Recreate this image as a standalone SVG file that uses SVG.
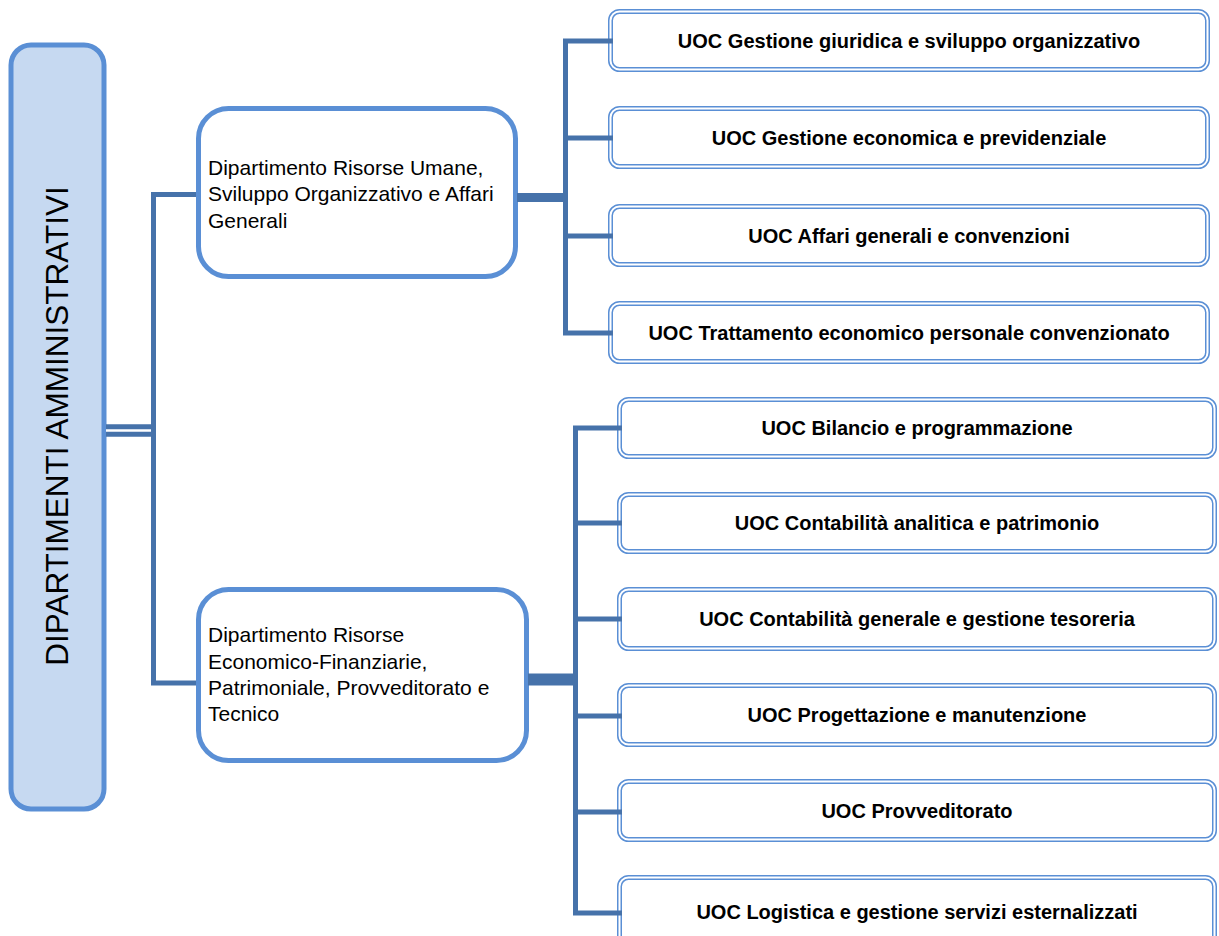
<svg xmlns="http://www.w3.org/2000/svg" width="1219" height="936" viewBox="0 0 1219 936">
<style>
.bg{fill:#ffffff}
.main{fill:#C6D9F1;stroke:#5A8FD5;stroke-width:5}
.dept{fill:#ffffff;stroke:#5A8FD5;stroke-width:5}
.uo{fill:#ffffff;stroke:#5A8FD5;stroke-width:5}
.uoi{fill:none;stroke:#ffffff;stroke-width:2}
.conn{fill:none;stroke:#4672AA;stroke-linejoin:miter;stroke-linecap:butt}
.title{font-family:"Liberation Sans",Arial,sans-serif;font-size:31.5px;fill:#000000}
.dt{font-family:"Liberation Sans",Arial,sans-serif;font-size:21px;fill:#000000}
.ut{font-family:"Liberation Sans",Arial,sans-serif;font-size:20px;font-weight:bold;fill:#000000;text-anchor:middle}
</style>
<rect class="bg" x="0" y="0" width="1219" height="936"/>

<g id="node-main">
<rect class="main" x="11" y="45" width="93" height="764" rx="20"/>
<text class="title" transform="translate(68,426) rotate(-90)" text-anchor="middle">DIPARTIMENTI AMMINISTRATIVI</text>
</g>

<g id="node-dept1">
<rect class="dept" x="198.5" y="108.5" width="317" height="168" rx="30"/>
<text class="dt" x="208" y="175">Dipartimento Risorse Umane,</text>
<text class="dt" x="208" y="201">Sviluppo Organizzativo e Affari</text>
<text class="dt" x="208" y="228">Generali</text>
</g>

<g id="node-dept2">
<rect class="dept" x="198.5" y="589.5" width="328" height="171" rx="30"/>
<text class="dt" x="208" y="642">Dipartimento Risorse</text>
<text class="dt" x="208" y="669">Economico-Finanziarie,</text>
<text class="dt" x="208" y="695">Patrimoniale, Provveditorato e</text>
<text class="dt" x="208" y="721">Tecnico</text>
</g>

<g id="node-uoc1">
<rect class="uo" x="610.5" y="11.5" width="597" height="58" rx="9"/>
<rect class="uoi" x="610.5" y="11.5" width="597" height="58" rx="9"/>
<text class="ut" x="909" y="48">UOC Gestione giuridica e sviluppo organizzativo</text>
</g>
<g id="node-uoc2">
<rect class="uo" x="610.5" y="108.5" width="597" height="58" rx="9"/>
<rect class="uoi" x="610.5" y="108.5" width="597" height="58" rx="9"/>
<text class="ut" x="909" y="145">UOC Gestione economica e previdenziale</text>
</g>
<g id="node-uoc3">
<rect class="uo" x="610.5" y="206.5" width="597" height="58" rx="9"/>
<rect class="uoi" x="610.5" y="206.5" width="597" height="58" rx="9"/>
<text class="ut" x="909" y="243">UOC Affari generali e convenzioni</text>
</g>
<g id="node-uoc4">
<rect class="uo" x="610.5" y="303.5" width="597" height="58" rx="9"/>
<rect class="uoi" x="610.5" y="303.5" width="597" height="58" rx="9"/>
<text class="ut" x="909" y="340">UOC Trattamento economico personale convenzionato</text>
</g>

<g id="node-uoc5">
<rect class="uo" x="619.5" y="399.5" width="595" height="57" rx="9"/>
<rect class="uoi" x="619.5" y="399.5" width="595" height="57" rx="9"/>
<text class="ut" x="917" y="435">UOC Bilancio e programmazione</text>
</g>
<g id="node-uoc6">
<rect class="uo" x="619.5" y="494.5" width="595" height="57" rx="9"/>
<rect class="uoi" x="619.5" y="494.5" width="595" height="57" rx="9"/>
<text class="ut" x="917" y="530">UOC Contabilità analitica e patrimonio</text>
</g>
<g id="node-uoc7">
<rect class="uo" x="619.5" y="589.5" width="595" height="59" rx="9"/>
<rect class="uoi" x="619.5" y="589.5" width="595" height="59" rx="9"/>
<text class="ut" x="917" y="626">UOC Contabilità generale e gestione tesoreria</text>
</g>
<g id="node-uoc8">
<rect class="uo" x="619.5" y="685.5" width="595" height="59" rx="9"/>
<rect class="uoi" x="619.5" y="685.5" width="595" height="59" rx="9"/>
<text class="ut" x="917" y="722">UOC Progettazione e manutenzione</text>
</g>
<g id="node-uoc9">
<rect class="uo" x="619.5" y="781.5" width="595" height="58" rx="9"/>
<rect class="uoi" x="619.5" y="781.5" width="595" height="58" rx="9"/>
<text class="ut" x="917" y="818">UOC Provveditorato</text>
</g>
<g id="node-uoc10">
<rect class="uo" x="619.5" y="877.5" width="595" height="72" rx="9"/>
<rect class="uoi" x="619.5" y="877.5" width="595" height="72" rx="9"/>
<text class="ut" x="917" y="919">UOC Logistica e gestione servizi esternalizzati</text>
</g>

<g id="connectors">
<line class="conn" x1="106" y1="430.5" x2="156" y2="430.5" stroke-width="12.5"/>
<line x1="106" y1="430.5" x2="151" y2="430.5" stroke="#ffffff" stroke-width="2.5"/>
<path class="conn" d="M196,194.5 H153.5 V683 H196" stroke-width="5"/>
<line class="conn" x1="517" y1="197.5" x2="568" y2="197.5" stroke-width="9"/>
<path class="conn" d="M613,41 H565.5 V333 H613" stroke-width="5"/>
<path class="conn" d="M565.5,138 H613 M565.5,236 H613" stroke-width="5"/>
<line class="conn" x1="528" y1="679.5" x2="578" y2="679.5" stroke-width="12"/>
<path class="conn" d="M622,428 H575.5 V913 H622" stroke-width="5"/>
<path class="conn" d="M575.5,523 H622 M575.5,619 H622 M575.5,716 H622 M575.5,812 H622" stroke-width="5"/>
</g>
</svg>
